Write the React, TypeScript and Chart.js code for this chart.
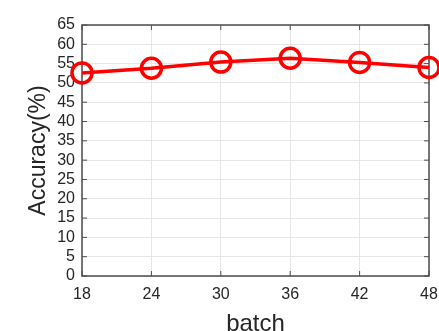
import React, { useEffect, useRef } from "react";
import { Chart, registerables } from "chart.js";

Chart.register(...registerables);

const batches = [18, 24, 30, 36, 42, 48];
const accuracy = [52.6, 53.8, 55.4, 56.4, 55.3, 54.0];
const yMin = 0;
const yMax = 65;
const yStep = 5;
const xStep = 6;

const FONT = "'Liberation Sans', Arial, Helvetica, sans-serif";
const TEXT = "#262626";
const FRAME = "#4d4d4d";

const framePlugin = {
  id: "matlabFrame",
  beforeDatasetsDraw(chart: any) {
    const { ctx, chartArea: a, scales } = chart;
    ctx.save();
    ctx.strokeStyle = FRAME;
    ctx.lineWidth = 1.5;
    ctx.strokeRect(a.left, a.top, a.right - a.left, a.bottom - a.top);
    const len = 5;
    ctx.lineWidth = 1;
    ctx.beginPath();
    scales.x.ticks.forEach((t: any) => {
      const px = scales.x.getPixelForValue(t.value);
      ctx.moveTo(px, a.bottom);
      ctx.lineTo(px, a.bottom - len);
      ctx.moveTo(px, a.top);
      ctx.lineTo(px, a.top + len);
    });
    scales.y.ticks.forEach((t: any) => {
      const py = scales.y.getPixelForValue(t.value);
      ctx.moveTo(a.left, py);
      ctx.lineTo(a.left + len, py);
      ctx.moveTo(a.right, py);
      ctx.lineTo(a.right - len, py);
    });
    ctx.stroke();
    ctx.restore();
  },
};

const noPad = (s: any) => {
  s.paddingLeft = 0;
  s.paddingRight = 0;
  s.paddingTop = 0;
  s.paddingBottom = 0;
};

export default function App() {
  const ref = useRef<HTMLCanvasElement>(null);

  useEffect(() => {
    document.body.style.margin = "0";
    const chart = new Chart(ref.current!, {
      type: "line",
      data: {
        datasets: [
          {
            data: batches.map((b, i) => ({ x: b, y: accuracy[i] })),
            borderColor: "#ff0000",
            backgroundColor: "rgba(0,0,0,0)",
            borderWidth: 3.5,
            pointRadius: 10,
            pointBorderWidth: 3.5,
            pointBackgroundColor: "rgba(0,0,0,0)",
            pointBorderColor: "#ff0000",
            tension: 0,
            clip: false as any,
          },
        ],
      },
      options: {
        animation: false,
        responsive: false,
        maintainAspectRatio: false,
        layout: { padding: { top: 25, right: 10, left: 0, bottom: 0 } },
        plugins: { legend: { display: false }, tooltip: { enabled: false } },
        scales: {
          x: {
            type: "linear",
            min: batches[0],
            max: batches[batches.length - 1],
            ticks: {
              stepSize: xStep,
              color: TEXT,
              font: { family: FONT, size: 16 },
              padding: 9,
              maxRotation: 0,
              autoSkip: false,
            },
            grid: { color: "#e6e6e6", lineWidth: 1, drawTicks: false },
            border: { display: false },
            title: {
              display: true,
              text: "batch",
              color: TEXT,
              font: { family: FONT, size: 24, lineHeight: 1 },
              padding: { top: 0, bottom: -5 },
            },
            afterFit: (s: any) => {
              s.height = 55;
              noPad(s);
            },
          },
          y: {
            min: yMin,
            max: yMax,
            ticks: {
              stepSize: yStep,
              color: TEXT,
              font: { family: FONT, size: 16 },
              padding: 7,
              autoSkip: false,
            },
            grid: { color: "#e6e6e6", lineWidth: 1, drawTicks: false },
            border: { display: false },
            title: {
              display: true,
              text: "Accuracy(%)",
              color: TEXT,
              font: { family: FONT, size: 23, lineHeight: 1 },
              padding: { top: 27, bottom: 0 },
            },
            afterFit: (s: any) => {
              s.width = 82;
              noPad(s);
            },
          },
        },
      },
      plugins: [
        framePlugin,
        {
          id: "fixArea",
          afterLayout(chart: any) {
            // keep the plot box where the reference has it
            const a = chart.chartArea;
            const targetRight = chart.width - 10;
            if (a.right !== targetRight) {
              a.right = targetRight;
              a.width = a.right - a.left;
              const xs = chart.scales.x;
              xs.right = targetRight;
              xs.width = xs.right - xs.left;
              xs.configure();
              const ys = chart.scales.y;
              ys.configure();
            }
          },
        },
      ],
    });
    return () => chart.destroy();
  }, []);

  return (
    <div style={{ position: "fixed", left: 0, top: 0, width: 439, height: 331, background: "#fff" }}>
      <canvas ref={ref} width={439} height={331} style={{ width: 439, height: 331, display: "block" }} />
    </div>
  );
}
